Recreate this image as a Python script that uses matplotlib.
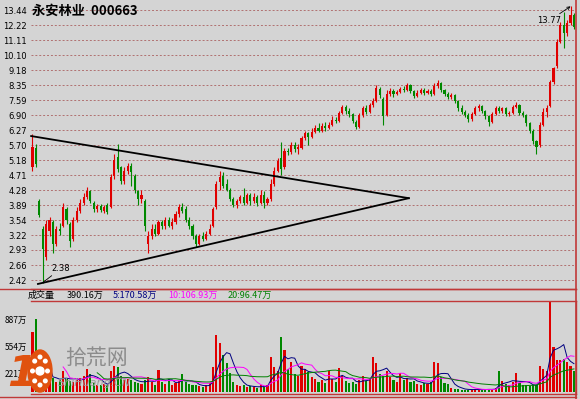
import numpy as np
import pandas as pd
import matplotlib
matplotlib.use('Agg')
import matplotlib.pyplot as plt
from matplotlib.lines import Line2D
from matplotlib.patches import Ellipse, Circle
from matplotlib.ticker import NullLocator

plt.rcParams['font.family'] = ['Noto Sans CJK SC', 'DejaVu Sans']

# 日K线数据 (元)
opens = [4.95, 5.60, 4.00, 3.35, 2.80, 3.30, 3.50, 3.05, 3.35, 3.40,
         3.80, 3.45, 3.15, 3.55, 3.75, 3.95, 4.10, 4.25, 3.95, 3.80,
         3.88, 3.75, 3.90, 3.85, 4.70, 5.30, 4.95, 4.55, 4.85, 5.00,
         4.70, 4.25, 4.05, 4.00, 3.05, 3.20, 3.35, 3.25, 3.50, 3.40,
         3.55, 3.42, 3.50, 3.68, 3.85, 3.80, 3.55, 3.40, 3.20, 3.05,
         3.20, 3.15, 3.25, 3.40, 3.85, 4.50, 4.70, 4.45, 4.30, 4.05,
         3.90, 4.00, 4.10, 3.95, 4.15, 4.00, 4.10, 3.95, 4.15, 3.95,
         4.05, 4.45, 4.85, 5.25, 4.95, 5.50, 5.45, 5.70, 5.55, 5.60,
         5.95, 6.15, 6.00, 6.20, 6.35, 6.25, 6.45, 6.35, 6.50, 6.70,
         6.65, 7.00, 7.25, 7.10, 6.95, 6.60, 6.40, 6.90, 7.20, 7.05,
         7.35, 7.55, 8.15, 7.65, 6.90, 7.90, 8.05, 7.90, 8.00, 8.15,
         8.10, 8.35, 8.05, 7.80, 7.95, 8.10, 7.95, 8.05, 7.90, 8.30,
         8.45, 8.10, 7.90, 7.75, 7.85, 7.55, 7.20, 7.05, 6.90, 6.75,
         6.95, 7.20, 7.30, 7.10, 6.85, 6.60, 6.95, 7.20, 7.10, 7.20,
         6.95, 7.00, 7.25, 7.35, 7.00, 6.90, 6.55, 6.25, 5.85, 5.70,
         6.50, 7.05, 7.30, 8.50, 9.40, 11.00, 12.20, 11.60, 12.40, 13.00]
highs = [6.10, 5.75, 4.05, 3.40, 3.55, 3.62, 3.55, 3.40, 3.48, 3.95,
         3.85, 3.50, 3.62, 3.85, 4.05, 4.20, 4.38, 4.30, 4.00, 3.92,
         3.92, 3.90, 3.95, 4.75, 5.40, 5.75, 5.00, 4.95, 5.10, 5.10,
         4.75, 4.30, 4.30, 4.05, 3.30, 3.45, 3.45, 3.55, 3.55, 3.60,
         3.62, 3.58, 3.75, 3.92, 3.95, 3.88, 3.60, 3.45, 3.25, 3.25,
         3.28, 3.30, 3.45, 3.85, 4.55, 4.85, 4.80, 4.60, 4.35, 4.10,
         4.05, 4.15, 4.35, 4.20, 4.20, 4.20, 4.15, 4.30, 4.25, 4.10,
         4.60, 4.95, 5.25, 5.80, 5.60, 5.60, 5.80, 5.80, 5.75, 6.05,
         6.25, 6.20, 6.35, 6.50, 6.55, 6.55, 6.60, 6.60, 6.85, 6.80,
         7.10, 7.35, 7.35, 7.20, 7.00, 6.70, 7.00, 7.30, 7.35, 7.45,
         7.70, 8.35, 8.25, 7.75, 8.10, 8.20, 8.15, 8.10, 8.25, 8.30,
         8.45, 8.40, 8.10, 8.10, 8.20, 8.20, 8.15, 8.15, 8.45, 8.60,
         8.50, 8.15, 8.00, 7.95, 7.90, 7.60, 7.35, 7.15, 7.00, 7.05,
         7.30, 7.40, 7.35, 7.15, 6.90, 7.05, 7.30, 7.30, 7.25, 7.25,
         7.10, 7.35, 7.50, 7.40, 7.10, 6.95, 6.60, 6.30, 5.90, 6.60,
         7.20, 7.35, 8.65, 9.35, 11.20, 12.50, 13.30, 12.60, 13.77, 13.20]
lows = [4.85, 4.95, 3.62, 2.38, 2.75, 3.20, 2.88, 3.00, 3.22, 3.38,
        3.45, 2.98, 3.10, 3.50, 3.70, 3.90, 4.05, 3.95, 3.72, 3.72,
        3.72, 3.70, 3.68, 3.82, 4.60, 4.80, 4.45, 4.45, 4.75, 4.40,
        4.20, 3.90, 3.95, 3.30, 2.88, 3.15, 3.20, 3.22, 3.35, 3.35,
        3.38, 3.35, 3.45, 3.62, 3.70, 3.50, 3.35, 3.15, 2.98, 3.02,
        3.10, 3.12, 3.22, 3.38, 3.80, 4.30, 4.35, 4.25, 4.00, 3.85,
        3.82, 3.95, 3.90, 3.92, 3.90, 3.95, 3.88, 3.92, 3.82, 3.90,
        4.00, 4.40, 4.80, 4.72, 4.90, 5.35, 5.40, 5.45, 5.40, 5.55,
        5.90, 5.70, 5.95, 6.15, 6.20, 6.20, 6.25, 6.30, 6.45, 6.55,
        6.60, 6.95, 6.95, 6.80, 6.55, 6.30, 6.35, 6.80, 6.95, 7.00,
        7.25, 7.50, 7.70, 6.50, 6.85, 7.80, 7.75, 7.85, 7.95, 8.00,
        8.05, 7.95, 7.70, 7.75, 7.90, 7.85, 7.90, 7.80, 7.85, 8.20,
        8.00, 7.80, 7.65, 7.65, 7.45, 7.10, 6.95, 6.80, 6.60, 6.65,
        6.90, 7.10, 7.00, 6.75, 6.45, 6.55, 6.90, 7.00, 7.00, 6.85,
        6.85, 6.95, 7.20, 6.90, 6.80, 6.45, 6.15, 5.75, 5.40, 5.65,
        6.45, 6.80, 7.25, 8.40, 9.30, 10.90, 10.60, 11.40, 12.20, 11.90]
closes = [5.65, 5.05, 3.65, 2.95, 3.45, 3.55, 3.05, 3.35, 3.30, 3.85,
          3.55, 3.10, 3.55, 3.75, 3.95, 4.10, 4.25, 4.00, 3.80, 3.88,
          3.78, 3.85, 3.72, 4.65, 5.20, 4.90, 4.55, 4.85, 5.00, 4.80,
          4.30, 4.05, 4.15, 3.40, 3.20, 3.35, 3.25, 3.50, 3.40, 3.55,
          3.42, 3.50, 3.68, 3.85, 3.75, 3.55, 3.40, 3.20, 3.05, 3.20,
          3.15, 3.25, 3.35, 3.80, 4.45, 4.65, 4.40, 4.30, 4.05, 3.90,
          4.00, 4.10, 3.95, 4.15, 4.00, 4.10, 3.95, 4.15, 3.95, 4.05,
          4.45, 4.85, 5.15, 4.90, 5.50, 5.45, 5.70, 5.55, 5.65, 5.95,
          6.15, 6.00, 6.20, 6.35, 6.25, 6.45, 6.35, 6.50, 6.70, 6.65,
          7.00, 7.25, 7.10, 6.95, 6.65, 6.40, 6.90, 7.20, 7.05, 7.35,
          7.55, 8.20, 7.85, 6.85, 7.90, 8.05, 7.90, 8.00, 8.15, 8.10,
          8.35, 8.05, 7.80, 7.95, 8.10, 7.95, 8.05, 7.90, 8.30, 8.45,
          8.10, 7.90, 7.75, 7.85, 7.55, 7.20, 7.05, 6.90, 6.75, 6.95,
          7.20, 7.30, 7.10, 6.85, 6.60, 6.95, 7.20, 7.10, 7.20, 6.95,
          7.00, 7.25, 7.35, 7.00, 6.90, 6.55, 6.25, 5.85, 5.65, 6.50,
          7.05, 7.20, 8.50, 9.30, 10.95, 12.20, 11.60, 12.40, 13.00, 12.10]
# 成交量 (万股)
volumes = [730, 887, 180, 220, 200, 150, 170, 120, 140, 250,
           160, 130, 120, 150, 170, 200, 280, 220, 110, 90,
           80, 100, 90, 250, 310, 300, 200, 150, 160, 140,
           120, 110, 100, 150, 180, 120, 90, 270, 120, 100,
           160, 90, 110, 130, 220, 120, 100, 90, 80, 70,
           60, 80, 110, 300, 690, 600, 450, 350, 230, 120,
           90, 70, 80, 60, 70, 60, 50, 80, 70, 90,
           430, 300, 250, 670, 515, 280, 370, 220, 200, 310,
           280, 240, 180, 160, 120, 150, 110, 250, 160, 120,
           290, 190, 130, 110, 120, 100, 150, 190, 130, 160,
           430, 350, 220, 200, 250, 180, 140, 120, 230, 150,
           170, 120, 130, 100, 90, 110, 100, 120, 370, 350,
           180, 110, 100, 50, 40, 35, 30, 30, 25, 30,
           35, 30, 25, 30, 40, 35, 45, 250, 130, 100,
           90, 120, 230, 110, 90, 80, 70, 90, 80, 310,
           280, 250, 1150, 550, 390, 390, 400, 370, 310, 250]

price_ticks = [2.42, 2.66, 2.93, 3.22, 3.54, 3.89, 4.28, 4.71, 5.18, 5.70,
               6.27, 6.90, 7.59, 8.35, 9.18, 10.10, 11.11, 12.22, 13.44]
vol_ticks = [221, 554, 887]

# 三角形整理的两条趋势线 (K线序号, 价格)
upper_x = [-0.4, 110.5]
upper_y = [6.04, 4.07]
lower_x = [1.6, 110.5]
lower_y = [2.36, 4.07]

low_idx, low_val = 3, 2.38
high_idx, high_val = 158, 13.77

W, H = 580, 399
BG = '#d4d4d4'
UP = '#e00000'
DOWN = '#008800'
FRAME = '#c03838'


def price_at(py):
    # 纵轴为对数刻度, 每格 15 像素, 比例 1.1
    return 2.42 * 1.1 ** ((280 - py) / 15.0)


fig = plt.figure(figsize=(W / 100, H / 100), dpi=100, facecolor=BG)

ax = fig.add_axes([31 / W, 1 - 289 / H, 545 / W, 289 / H])
ax.set_facecolor('none')
ax.set_yscale('log')
ax.set_ylim(price_at(289), price_at(0))
n = len(closes)
ax.set_xlim(-0.44, n - 1 + 0.6)

for t in price_ticks:
    ax.axhline(t, color='#b07070', lw=0.7, ls=(0, (2, 2)), zorder=0)

idx = np.arange(n)
o = np.array(opens)
c = np.array(closes)
colors = [UP if cc >= oo else DOWN for oo, cc in zip(o, c)]
ax.vlines(idx, lows, highs, colors=colors, lw=0.8, zorder=2)
body_h = np.maximum(np.abs(c - o), 0.01)
ax.bar(idx, body_h, bottom=np.minimum(o, c), width=0.62, color=colors, lw=0, zorder=3)

ax.plot(upper_x, upper_y, color='k', lw=1.3, zorder=4, clip_on=False)
ax.plot(lower_x, lower_y, color='k', lw=1.3, zorder=4)

ax.annotate('%.2f' % low_val, xy=(low_idx, low_val), xytext=(6.5, 7),
            textcoords='offset points', ha='left', va='bottom',
            fontsize=6, family='DejaVu Sans',
            arrowprops=dict(arrowstyle='-', color='k', lw=0.6, shrinkA=0, shrinkB=0))
ax.annotate('%.2f' % high_val, xy=(high_idx, high_val), xytext=(-7, -10.5),
            textcoords='offset points', ha='right', va='center',
            fontsize=6, family='DejaVu Sans',
            arrowprops=dict(arrowstyle='->', color='k', lw=0.6, shrinkA=0, shrinkB=0,
                            mutation_scale=5))

ax.set_yticks(price_ticks)
ax.set_yticklabels(['%.2f' % t for t in price_ticks], family='DejaVu Sans')
ax.yaxis.set_minor_locator(NullLocator())
ax.set_xticks([])
ax.tick_params(axis='y', length=0, labelsize=6, pad=3)
for s in ['top', 'left', 'right']:
    ax.spines[s].set_visible(False)
ax.spines['bottom'].set_color(FRAME)
ax.spines['bottom'].set_linewidth(1)

fig.text(32 / W, 1 - 11 / H, '永安林业  000663', fontsize=9.5, fontweight='bold',
         ha='left', va='center')

# 成交量
axv = fig.add_axes([31 / W, 1 - 394 / H, 545 / W, 93 / H])
axv.set_facecolor('none')
axv.set_xlim(ax.get_xlim())
axv.set_ylim(-24, 1105)
axv.bar(idx, volumes, width=0.62, color=colors, lw=0, zorder=2)
vs = pd.Series(volumes, dtype=float)
axv.plot(idx, vs.rolling(5).mean(), color='#000080', lw=0.7, zorder=3)
axv.plot(idx, vs.rolling(10).mean(), color='#ff00ff', lw=0.7, zorder=3)
axv.plot(idx, vs.rolling(20).mean(), color='#008000', lw=0.7, zorder=3)
axv.set_yticks(vol_ticks)
axv.set_yticklabels(['%d万' % v for v in vol_ticks])
axv.set_xticks([])
axv.tick_params(axis='y', length=0, labelsize=6, pad=3)
axv.spines['left'].set_visible(False)
for s in ['top', 'bottom', 'right']:
    axv.spines[s].set_color(FRAME)
    axv.spines[s].set_linewidth(1)

ly = 1 - 295 / H
fig.text(28 / W, ly, '成交量', fontsize=6.5, va='center')
fig.text(67 / W, ly, '390.16万', fontsize=6.5, va='center')
fig.text(113 / W, ly, '5:170.58万', fontsize=6.5, va='center', color='#000080')
fig.text(168 / W, ly, '10:106.93万', fontsize=6.5, va='center', color='#ff00ff')
fig.text(228 / W, ly, '20:96.47万', fontsize=6.5, va='center', color='#008000')

# 边框
fig.add_artist(Line2D([0, 576 / W], [1 - 289 / H] * 2, color=FRAME, lw=1))
fig.add_artist(Line2D([0, 576 / W], [1 - 397 / H] * 2, color=FRAME, lw=1))
fig.add_artist(Line2D([576 / W] * 2, [0, 1], color=FRAME, lw=1.2))

# 水印
fig.text(58 / W, 1 - 383 / H, 'ShiHuang.CN', fontsize=8, style='italic',
         color='#9a9a9a', family='DejaVu Sans', va='center', zorder=5)
fig.text(65 / W, 1 - 358 / H, '拾荒网', fontsize=15, color='#8c8c8c',
         va='center', zorder=5)
fig.text(7 / W, 1 - 374 / H, '1', fontsize=31, fontweight='bold', style='italic',
         color='#e0520f', family='DejaVu Sans', va='center', zorder=6)
fig.add_artist(Ellipse((0.40, (H - 371) / 100), 0.24, 0.42,
                       transform=fig.dpi_scale_trans, color='#e0520f', zorder=6))
fig.add_artist(Circle((0.40, (H - 371) / 100), 0.04,
                      transform=fig.dpi_scale_trans, color='white', zorder=7))
for a in np.linspace(0, 2 * np.pi, 8, endpoint=False):
    fig.add_artist(Circle((0.40 + 0.075 * np.cos(a), (H - 371) / 100 + 0.14 * np.sin(a)), 0.018,
                          transform=fig.dpi_scale_trans, color='white', zorder=7))

fig.savefig('out.png', dpi=100, facecolor=BG)
